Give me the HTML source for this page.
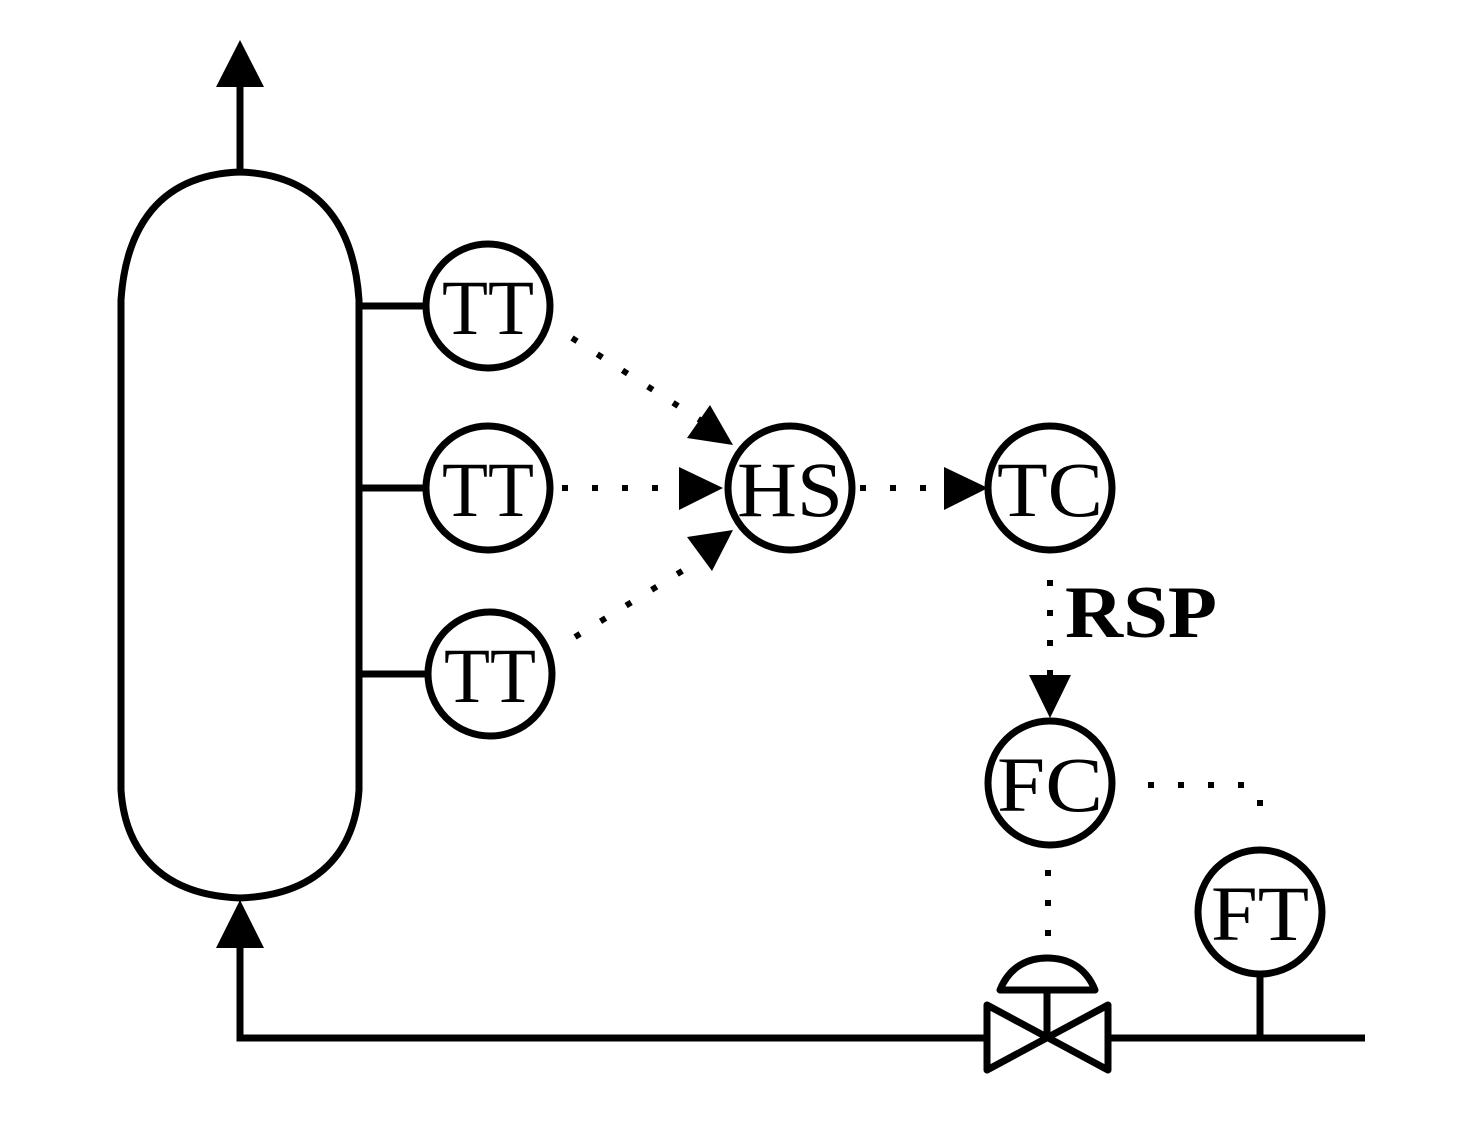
<!DOCTYPE html>
<html><head><style>html,body{margin:0;padding:0;background:#fff}</style></head><body>
<svg width="1474" height="1120" viewBox="0 0 1474 1120" xmlns="http://www.w3.org/2000/svg">
<g fill="none" stroke="#000" stroke-width="7">
<path d="M240,172 C150,175 125,240 121,300 L121,790 C125,850 160,895 240,898 C320,895 355,850 359,790 L359,300 C355,240 330,175 240,172 Z"/>
<line x1="240" y1="172" x2="240" y2="82"/>
<polyline points="240,948 240,1038 985,1038"/>
<line x1="1110" y1="1038" x2="1365" y2="1038"/>
<line x1="360" y1="306" x2="426" y2="306"/>
<line x1="360" y1="488" x2="426" y2="488"/>
<line x1="360" y1="674" x2="426" y2="674"/>
<circle cx="488" cy="306" r="62"/>
<circle cx="488" cy="488" r="62"/>
<circle cx="490" cy="674" r="62"/>
<circle cx="790" cy="488" r="62"/>
<circle cx="1050" cy="488" r="62"/>
<circle cx="1050" cy="783" r="62"/>
<circle cx="1260" cy="912" r="62"/>
<line x1="1260" y1="974" x2="1260" y2="1038"/>
<path d="M987,1005 L987,1070 L1108,1005 L1108,1070 Z" stroke-linejoin="round"/>
<line x1="1047" y1="990" x2="1047" y2="1038"/>
<path d="M1000,990 L1095,990 C1085,965 1065,958 1047,958 C1030,958 1010,965 1000,990 Z" stroke-linejoin="round"/>
</g>
<g stroke="#000" stroke-width="6" stroke-dasharray="6 24" fill="none">
<line x1="572" y1="338" x2="700" y2="420"/>
<line x1="562" y1="488" x2="679" y2="488"/>
<line x1="575" y1="637" x2="700" y2="560"/>
<line x1="860" y1="488" x2="945" y2="488"/>
<line x1="1050" y1="580" x2="1050" y2="675"/>
<line x1="1148" y1="785" x2="1260" y2="785"/>
<line x1="1260" y1="800" x2="1260" y2="830"/>
<line x1="1048" y1="870" x2="1048" y2="960"/>
</g>
<g fill="#000">
<polygon points="240,40 216,87 264,87"/>
<polygon points="240,900 216,948 264,948"/>
<polygon points="733,445 710,405 687,438"/>
<polygon points="723,488 679,467 679,510"/>
<polygon points="733,530 687,537 712,571"/>
<polygon points="988,488 944,467 944,510"/>
<polygon points="1050,718 1029,675 1071,675"/>
</g>
<g font-family="Liberation Serif, serif" font-size="78" text-anchor="middle" fill="#000">
<text x="488" y="334" textLength="92" lengthAdjust="spacingAndGlyphs">TT</text>
<text x="488" y="516" textLength="92" lengthAdjust="spacingAndGlyphs">TT</text>
<text x="490" y="702" textLength="92" lengthAdjust="spacingAndGlyphs">TT</text>
<text x="790" y="516" textLength="106" lengthAdjust="spacingAndGlyphs">HS</text>
<text x="1050" y="516" textLength="106" lengthAdjust="spacingAndGlyphs">TC</text>
<text x="1050" y="811" textLength="106" lengthAdjust="spacingAndGlyphs">FC</text>
<text x="1260" y="940" textLength="98" lengthAdjust="spacingAndGlyphs">FT</text>
<text x="1141" y="637" font-weight="bold" font-size="74" textLength="152" lengthAdjust="spacingAndGlyphs">RSP</text>
</g>
</svg>
</body></html>
